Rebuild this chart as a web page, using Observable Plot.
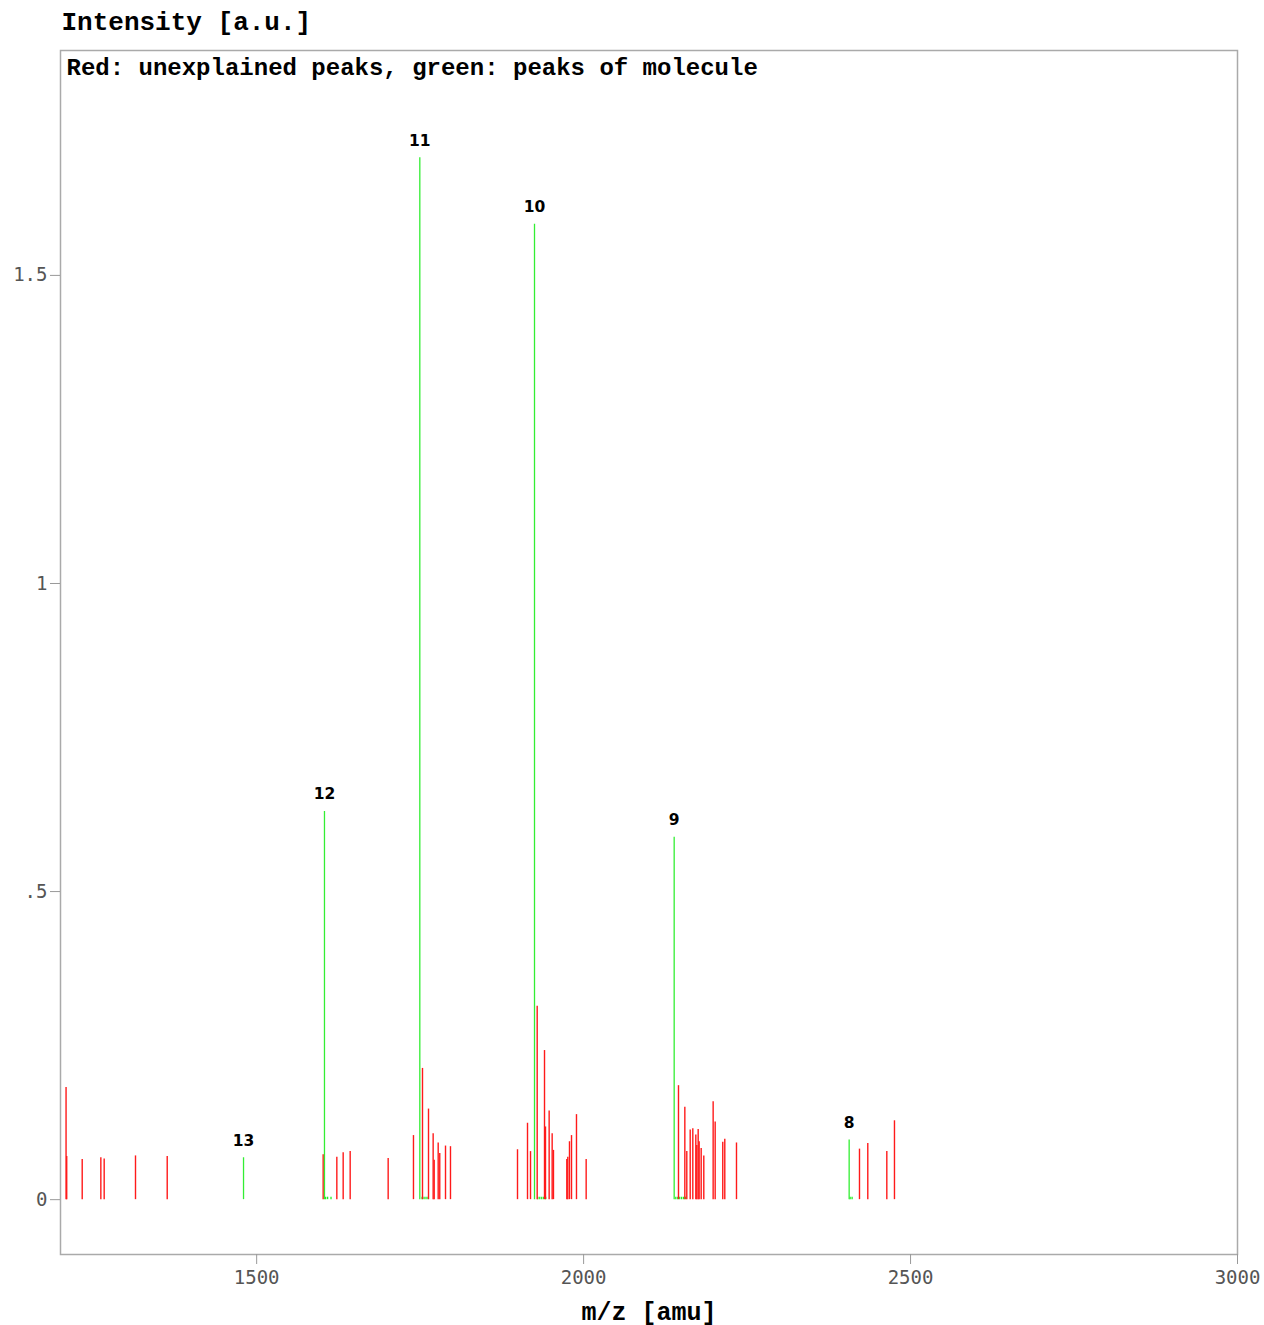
<!DOCTYPE html>
<html>
<head>
<meta charset="utf-8">
<script src="https://cdn.jsdelivr.net/npm/d3@7"></script>
<script src="https://cdn.jsdelivr.net/npm/@observablehq/plot@0.6"></script>
<style>
  html, body { margin: 0; padding: 0; background: #fff; }
</style>
</head>
<body>
<div id="chart"></div>
<script>
// Explained peaks (green, molecule) with charge-state labels
const greenMz = [1479.9, 1603.7, 1749.5, 1924.9, 2138.5, 2406.1];
const greenInt = [0.068, 0.630, 1.691, 1.583, 0.588, 0.097];
const greenLabels = ["13", "12", "11", "10", "9", "8"];

// Tiny green isotope peaks at the baseline
const greenSmallMz = [1605.5, 1608.5, 1613.7, 1753, 1756, 1759, 1762, 1930, 1933, 1936, 1939, 1942,
  2141, 2144, 2147, 2150, 2153, 2156, 2407.6, 2410.6];
const greenSmallInt = [0.004, 0.004, 0.004, 0.004, 0.004, 0.004, 0.004, 0.004, 0.004, 0.004, 0.004, 0.004,
  0.004, 0.004, 0.004, 0.004, 0.004, 0.004, 0.004, 0.004];

// Unexplained peaks (red)
const redMz = [1208.5, 1209.5, 1233.2, 1261.7, 1266.8, 1314.7, 1363.2,
  1601.7, 1622.6, 1632.3, 1643.0, 1701.1,
  1739.8, 1753.6, 1762.8, 1769.9, 1771.5, 1777.6, 1780.0, 1788.8, 1796.4,
  1898.9, 1914.2, 1918.8, 1929.0, 1940.2, 1941.7, 1947.3, 1951.9, 1953.9,
  1974.3, 1975.8, 1978.4, 1981.5, 1989.1, 2003.9,
  2145.1, 2154.8, 2157.8, 2163.0, 2167.0, 2171.6, 2173.1, 2175.2, 2176.7, 2179.8, 2183.8,
  2198.1, 2201.2, 2212.8, 2215.9, 2233.8,
  2421.9, 2434.6, 2463.7, 2475.4];
const redInt = [0.182, 0.070, 0.065, 0.068, 0.066, 0.071, 0.070,
  0.073, 0.069, 0.076, 0.078, 0.067,
  0.104, 0.213, 0.147, 0.107, 0.064, 0.092, 0.075, 0.087, 0.086,
  0.081, 0.124, 0.078, 0.314, 0.242, 0.118, 0.144, 0.107, 0.080,
  0.065, 0.069, 0.094, 0.104, 0.138, 0.065,
  0.185, 0.150, 0.078, 0.113, 0.115, 0.105, 0.088, 0.114, 0.094, 0.083, 0.071,
  0.159, 0.126, 0.093, 0.098, 0.092,
  0.082, 0.091, 0.078, 0.128];

const xTicks = [1500, 2000, 2500, 3000];
const yTicks = [0, 0.5, 1, 1.5];

const titleText = "Intensity [a.u.]";
const noteText = "Red: unexplained peaks, green: peaks of molecule";
const xLabelText = "m/z [amu]";

const green = greenMz.map((m, i) => ({mz: m, v: greenInt[i], label: greenLabels[i]}));
const greenSmall = greenSmallMz.map((m, i) => ({mz: m, v: greenSmallInt[i]}));
const red = redMz.map((m, i) => ({mz: m, v: redInt[i]}));

const monoBold = "'Liberation Mono', 'Courier New', monospace";

const chart = Plot.plot({
  width: 1264,
  height: 1325,
  marginLeft: 60,
  marginRight: 27,
  marginTop: 50,
  marginBottom: 71,
  style: {background: "#fff", fontFamily: "'DejaVu Sans Mono', monospace", overflow: "visible"},
  x: {domain: [1200, 3000]},
  y: {domain: [-0.089, 1.865]},
  marks: [
    Plot.frame({stroke: "#aaa", strokeWidth: 1.5}),
    Plot.axisX({
      ticks: xTicks, tickSize: 10, tickPadding: 6, fontSize: 19,
      stroke: "#999", fill: "#555", label: null, tickFormat: d => String(d)
    }),
    Plot.axisY({
      ticks: yTicks, tickSize: 10, tickPadding: 3, fontSize: 19,
      stroke: "#999", fill: "#555", label: null,
      tickFormat: d => d === 0 ? "0" : String(d).replace(/^0/, "")
    }),
    Plot.ruleX(greenSmall, {x: "mz", y1: 0, y2: "v", stroke: "#22ee22", strokeWidth: 1.3}),
    Plot.ruleX(red, {x: "mz", y1: 0, y2: "v", stroke: "#ff1a1a", strokeWidth: 1.4}),
    Plot.ruleX(green, {x: "mz", y1: 0, y2: "v", stroke: "#33ee33", strokeWidth: 1.3}),
    Plot.text(green, {
      x: "mz", y: "v", text: "label", lineAnchor: "bottom", dy: -12,
      fontFamily: "'DejaVu Sans', sans-serif", fontWeight: "bold", fontSize: 15.5, fill: "#000"
    }),
    Plot.text([noteText], {
      text: d => d, frameAnchor: "top-left", textAnchor: "start", lineAnchor: "middle",
      dx: 6, dy: 17, fontFamily: monoBold, fontWeight: "bold", fontSize: 24, fill: "#000"
    }),
    Plot.text([titleText], {
      text: d => d, frameAnchor: "top-left", textAnchor: "start", lineAnchor: "middle",
      dx: 1, dy: -29, fontFamily: monoBold, fontWeight: "bold", fontSize: 26, fill: "#000"
    }),
    Plot.text([xLabelText], {
      text: d => d, frameAnchor: "bottom", textAnchor: "middle", lineAnchor: "middle",
      dy: 57, fontFamily: monoBold, fontWeight: "bold", fontSize: 25, fill: "#000"
    })
  ]
});

document.getElementById("chart").appendChild(chart);
</script>
</body>
</html>
